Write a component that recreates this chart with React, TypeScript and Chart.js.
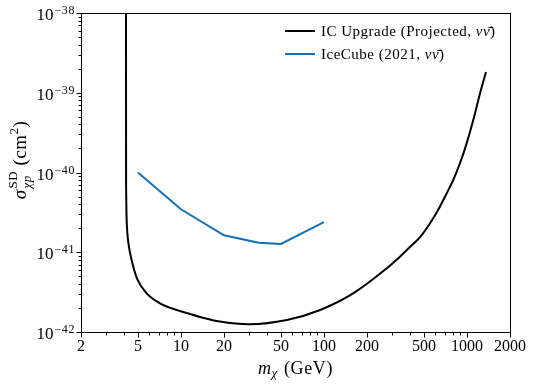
import React, { useEffect, useRef } from 'react';
import { Chart, registerables } from 'chart.js';

Chart.register(...registerables);

// ---- Data ----
const icUpgradeMass = [4.128, 4.13, 4.133, 4.14, 4.16, 4.21, 4.29, 4.55, 4.95, 5.76, 7.13, 9.34, 11.56, 14, 18.7, 30, 55, 94, 160, 275, 340, 420, 470, 552, 647, 721, 802, 893, 995, 1107, 1234, 1359];
const icUpgradeSigma = [1e-38, 1e-39, 1e-40, 5.5e-41, 3e-41, 1.85e-41, 1.3e-41, 7.6e-42, 4.6e-42, 3.05e-42, 2.29e-42, 1.89e-42, 1.68e-42, 1.52e-42, 1.35e-42, 1.25e-42, 1.41e-42, 1.89e-42, 3.05e-42, 6.3e-42, 8.8e-42, 1.27e-41, 1.55e-41, 2.31e-41, 3.73e-41, 5.48e-41, 8.05e-41, 1.3e-40, 2.32e-40, 4.55e-40, 9.8e-40, 1.82e-39];

const iceCubeMass = [5, 10, 20, 35, 50, 100];
const iceCubeSigma = [1.0e-40, 3.46e-41, 1.63e-41, 1.32e-41, 1.27e-41, 2.39e-41];

const seriesLabels = ['IC Upgrade (Projected, νν̄)', 'IceCube (2021, νν̄)'];
const seriesColors = ['#000000', '#1470b4'];

const xMajorTicks = [2, 5, 10, 20, 50, 100, 200, 500, 1000, 2000];
const xMinorTicks = [3, 4, 6, 7, 8, 9, 30, 40, 60, 70, 80, 90, 300, 400, 600, 700, 800, 900];
const yMajorTicks = [1e-42, 1e-41, 1e-40, 1e-39, 1e-38];
const yTickExponents = ['−42', '−41', '−40', '−39', '−38'];
const yMinorTicks: number[] = [];
for (let d = -42; d < -38; d++) {
  for (let k = 2; k <= 9; k++) yMinorTicks.push(k * Math.pow(10, d));
}

const FONT = '"Liberation Serif", "DejaVu Serif", serif';

const decorPlugin = {
  id: 'decor',
  afterDraw(chart: any) {
    const { ctx, chartArea } = chart;
    const { left, right, top, bottom } = chartArea;
    const xs = chart.scales.x;
    const ys = chart.scales.y;
    ctx.save();
    ctx.strokeStyle = '#000';
    ctx.lineWidth = 1;
    // frame
    ctx.strokeRect(Math.round(left) + 0.5, Math.round(top) + 0.5, Math.round(right - left), Math.round(bottom - top));
    // x ticks
    const yb = Math.round(bottom) + 0.5;
    const drawX = (v: number, len: number) => {
      const px = Math.round(xs.getPixelForValue(v)) + 0.5;
      ctx.beginPath();
      ctx.moveTo(px, yb);
      ctx.lineTo(px, yb + len);
      ctx.stroke();
    };
    xMajorTicks.forEach((v) => drawX(v, 5));
    xMinorTicks.forEach((v) => drawX(v, 3));
    const xl = Math.round(left) + 0.5;
    const drawY = (v: number, len: number) => {
      const py = Math.round(ys.getPixelForValue(v)) + 0.5;
      ctx.beginPath();
      ctx.moveTo(xl, py);
      ctx.lineTo(xl - len, py);
      ctx.stroke();
    };
    yMajorTicks.forEach((v) => drawY(v, 5));
    yMinorTicks.forEach((v) => drawY(v, 3));

    ctx.fillStyle = '#000';
    ctx.textBaseline = 'alphabetic';
    ctx.textAlign = 'left';

    // y tick labels 10^n
    yMajorTicks.forEach((v, i) => {
      const py = ys.getPixelForValue(v);
      const exp = yTickExponents[i];
      ctx.font = `12px ${FONT}`;
      (ctx as any).letterSpacing = '0.6px';
      const wE = ctx.measureText(exp).width;
      ctx.font = `17px ${FONT}`;
      (ctx as any).letterSpacing = '0px';
      const wB = ctx.measureText('10').width;
      const xEnd = left - 6;
      const xStart = xEnd - wE - wB - 1;
      ctx.fillText('10', xStart, py + 7);
      ctx.font = `12px ${FONT}`;
      (ctx as any).letterSpacing = '0.6px';
      ctx.fillText(exp, xStart + wB + 1, py + 1);
      (ctx as any).letterSpacing = '0px';
    });

    // x title: m_χ (GeV)
    {
      (ctx as any).letterSpacing = '0.6px';
      const big = `18px ${FONT}`;
      const bigI = `italic 18px ${FONT}`;
      const smallI = `italic 13px ${FONT}`;
      ctx.font = bigI;
      const wM = ctx.measureText('m').width;
      ctx.font = smallI;
      const wChi = ctx.measureText('χ').width;
      ctx.font = big;
      const wRest = ctx.measureText(' (GeV)').width;
      const total = wM + wChi + 1 + wRest;
      let x = (left + right) / 2 - total / 2;
      const base = 374;
      ctx.font = bigI;
      ctx.fillText('m', x, base);
      x += wM;
      ctx.font = smallI;
      ctx.fillText('χ', x, base + 3);
      x += wChi + 1;
      ctx.font = big;
      ctx.fillText(' (GeV)', x, base);
      (ctx as any).letterSpacing = '0px';
    }

    // y title: σ^SD_χp (cm²)
    {
      ctx.save();
      ctx.translate(26, 160);
      ctx.rotate(-Math.PI / 2);
      (ctx as any).letterSpacing = '0.5px';
      const big = `19px ${FONT}`;
      const bigI = `italic 19px ${FONT}`;
      const small = `13px ${FONT}`;
      const smallI = `italic 13px ${FONT}`;
      ctx.font = bigI;
      const wS = ctx.measureText('σ').width;
      ctx.font = small;
      const wSD = ctx.measureText('SD').width;
      const w2 = ctx.measureText('2').width;
      ctx.font = smallI;
      const wCP = ctx.measureText('χp').width;
      ctx.font = big;
      const wA = ctx.measureText(' (cm').width;
      const wB = ctx.measureText(')').width;
      const wMid = Math.max(wSD, wCP);
      const total = wS + 1 + wMid + wA + w2 + wB;
      let x = -total / 2;
      ctx.font = bigI;
      ctx.fillText('σ', x, 0);
      x += wS + 1;
      ctx.font = small;
      ctx.fillText('SD', x, -9);
      ctx.font = smallI;
      ctx.fillText('χp', x, 5);
      x += wMid;
      ctx.font = big;
      ctx.fillText(' (cm', x, 0);
      x += wA;
      ctx.font = small;
      ctx.fillText('2', x, -8);
      x += w2;
      ctx.font = big;
      ctx.fillText(')', x, 0);
      ctx.restore();
    }

    // legend
    {
      const rows = [31, 54];
      chart.data.datasets.forEach((ds: any, i: number) => {
        const y = rows[i];
        ctx.strokeStyle = ds.borderColor;
        ctx.lineWidth = 2;
        ctx.beginPath();
        ctx.moveTo(285, y);
        ctx.lineTo(315, y);
        ctx.stroke();
        const label: string = ds.label;
        const key = 'νν̄';
        const idx = label.indexOf(key);
        const pre = label.slice(0, idx);
        const post = label.slice(idx + key.length);
        let x = 321;
        const base = y + 5;
        ctx.fillStyle = '#000';
        (ctx as any).letterSpacing = '0.5px';
        ctx.font = `15px ${FONT}`;
        ctx.fillText(pre, x, base);
        x += ctx.measureText(pre).width;
        ctx.font = `italic 15px ${FONT}`;
        ctx.fillText(key, x, base);
        x += ctx.measureText(key).width;
        ctx.font = `15px ${FONT}`;
        ctx.fillText(post, x, base);
        (ctx as any).letterSpacing = '0px';
      });
    }
    ctx.restore();
  },
};

export default function App() {
  const ref = useRef<HTMLCanvasElement | null>(null);
  useEffect(() => {
    document.body.style.margin = '0';
    const canvas = ref.current;
    if (!canvas) return;
    const chart = new Chart(canvas, {
      type: 'scatter',
      data: {
        datasets: [
          {
            label: seriesLabels[0],
            data: icUpgradeMass.map((m, i) => ({ x: m, y: icUpgradeSigma[i] })),
            borderColor: seriesColors[0],
            backgroundColor: seriesColors[0],
            borderWidth: 2,
            showLine: true,
            pointRadius: 0,
            cubicInterpolationMode: 'monotone',
          },
          {
            label: seriesLabels[1],
            data: iceCubeMass.map((m, i) => ({ x: m, y: iceCubeSigma[i] })),
            borderColor: seriesColors[1],
            backgroundColor: seriesColors[1],
            borderWidth: 2,
            showLine: true,
            pointRadius: 0,
            tension: 0,
          },
        ],
      },
      options: {
        animation: false,
        responsive: false,
        devicePixelRatio: 1,
        layout: { padding: { top: 13, right: 24, left: 0, bottom: 0 } },
        plugins: {
          legend: { display: false },
          tooltip: { enabled: false },
        },
        scales: {
          x: {
            type: 'logarithmic',
            position: 'bottom',
            min: 2,
            max: 2000,
            afterBuildTicks: (s: any) => {
              s.ticks = xMajorTicks.map((v) => ({ value: v }));
            },
            afterFit: (s: any) => {
              s.height = 56;
            },
            ticks: {
              callback: (v: any) => String(v),
              font: { family: FONT, size: 16 },
              color: '#000',
              maxRotation: 0,
              autoSkip: false,
              padding: 5,
            },
            grid: { display: false, drawTicks: false },
            border: { display: false },
          },
          y: {
            type: 'logarithmic',
            position: 'left',
            min: 1e-42,
            max: 1e-38,
            afterBuildTicks: (s: any) => {
              s.ticks = yMajorTicks.map((v) => ({ value: v }));
            },
            afterFit: (s: any) => {
              s.width = 81;
            },
            ticks: { display: false },
            grid: { display: false, drawTicks: false },
            border: { display: false },
          },
        },
      },
      plugins: [decorPlugin],
    } as any);
    return () => chart.destroy();
  }, []);
  return <canvas ref={ref} width={534} height={388} style={{ display: 'block' }} />;
}
